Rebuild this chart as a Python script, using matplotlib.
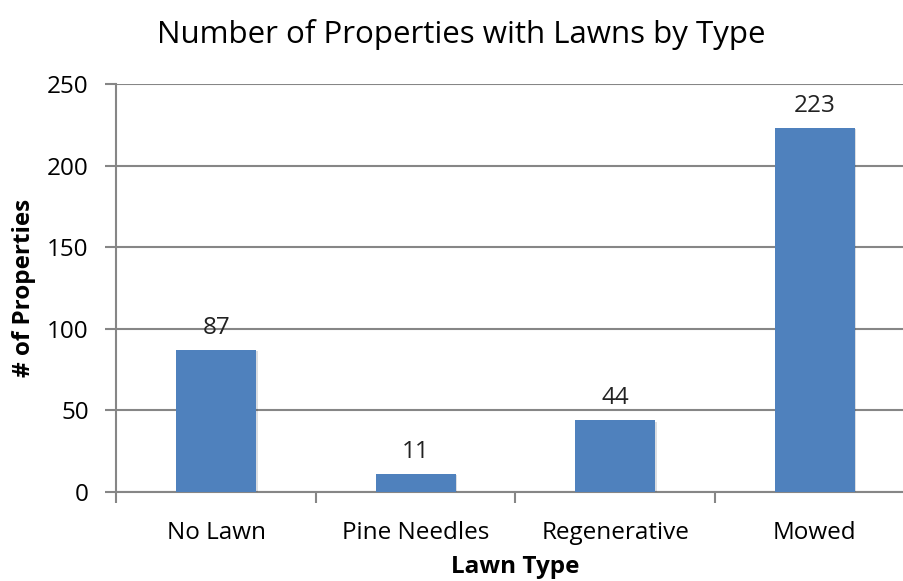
import matplotlib.pyplot as plt
import matplotlib.patheffects as pe
import numpy as np

categories = ["No Lawn", "Pine Needles", "Regenerative", "Mowed"]
counts = [87, 11, 44, 223]
y_ticks = [0, 50, 100, 150, 200, 250]

plt.rcParams["font.family"] = ["Open Sans", "DejaVu Sans"]
grey = "#868686"

fig = plt.figure(figsize=(9.04, 5.81), dpi=100)
ax = fig.add_axes([116.5 / 904, 89 / 581, 798 / 904, 408 / 581])

x = np.arange(len(categories))
bars = ax.bar(x, counts, width=0.4, color="#4F81BD", zorder=3)
for b in bars:
    b.set_path_effects([pe.SimplePatchShadow(offset=(1, -1), alpha=0.15), pe.Normal()])

for xi, v in zip(x, counts):
    ax.text(xi, v + 6, str(v), ha="center", va="bottom", fontsize=17.5, color="#222222")

ax.set_xlim(-0.5, 3.5)
ax.set_ylim(0, 250)
ax.set_yticks(y_ticks)
ax.yaxis.grid(True, color=grey, linewidth=1.5, zorder=0)
ax.set_axisbelow(True)

ax.set_xticks(x)
ax.set_xticklabels(categories, fontsize=17.5)
ax.set_xticks([-0.5, 0.5, 1.5, 2.5, 3.5], minor=True)
ax.tick_params(axis="x", which="major", length=0, pad=21)
ax.tick_params(axis="x", which="minor", length=8, width=1.5, color=grey)
ax.tick_params(axis="y", length=8, width=1.5, color=grey, labelsize=17.5, pad=12)

for s in ["top", "right"]:
    ax.spines[s].set_visible(False)
for s in ["left", "bottom"]:
    ax.spines[s].set_color(grey)
    ax.spines[s].set_linewidth(1.5)

ax.set_xlabel("Lawn Type", fontsize=17.5, fontweight="bold", labelpad=7)
ax.set_ylabel("# of Properties", fontsize=17.5, fontweight="bold", labelpad=8)
fig.text(0.51, 0.94, "Number of Properties with Lawns by Type", ha="center", va="center", fontsize=22.5)

plt.savefig("out.png", dpi=100)
plt.close()
